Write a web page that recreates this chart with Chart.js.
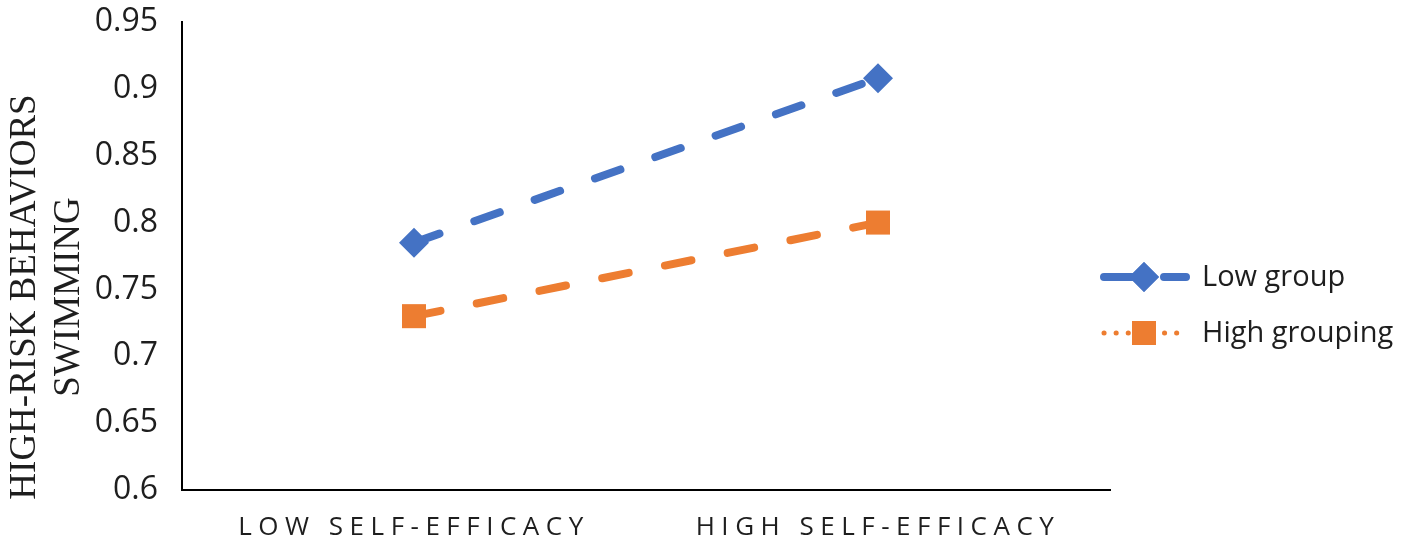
<!DOCTYPE html>
<html>
<head>
<meta charset="utf-8">
<script src="https://cdn.jsdelivr.net/npm/chart.js@4"></script>
<style>
    html, body {
        margin: 0;
        padding: 0;
        background: #ffffff;
    }

    #wrap {
        width: 1418px;
        height: 550px;
        position: relative;
    }
</style>
</head>
<body>
<div id="wrap"><canvas id="chart"></canvas></div>
<script>
// Chart data
var categories = ["LOW SELF-EFFICACY", "HIGH SELF-EFFICACY"];
var low_group = [0.785, 0.908];
var high_grouping = [0.73, 0.80];
var series_names = ["Low group", "High grouping"];
var y_title_lines = ["HIGH-RISK BEHAVIORS", "SWIMMING"];
var y_min = 0.6;
var y_max = 0.95;
var y_step = 0.05;

var blue = "#4472C4";
var orange = "#ED7D31";
var text_color = "#1e1e1e";

// Draws the rotated two-line serif title on the left
var y_title_plugin = {
    "id": "y_title",
    "afterDraw": function (chart) {
        var ctx = chart.ctx;

        ctx.save();
        ctx.translate(25, 297);
        ctx.rotate(-Math.PI / 2);
        ctx.font = "37px 'Liberation Serif', 'DejaVu Serif', serif";
        ctx.fillStyle = text_color;
        ctx.textAlign = "center";
        ctx.textBaseline = "middle";

        for (var i = 0; i < y_title_lines.length; i++) {
            ctx.fillText(y_title_lines[i], 0, i * 44);
        }

        ctx.restore();
    }
};

// Legend on the right with line sample + marker (Excel style)
var side_legend_plugin = {
    "id": "side_legend",
    "afterDraw": function (chart) {
        var ctx = chart.ctx;
        var rows = [277, 333];

        chart.data.datasets.forEach(function (ds, i) {
            var y = rows[i];

            ctx.save();
            ctx.strokeStyle = ds.borderColor;
            ctx.lineWidth = i === 0 ? 8 : 5;
            ctx.lineCap = "round";
            ctx.setLineDash(i === 0 ? [30, 30] : [0.1, 12]);
            ctx.beginPath();
            ctx.moveTo(1104, y);
            ctx.lineTo(1186, y);
            ctx.stroke();
            ctx.restore();

            ctx.save();
            ctx.fillStyle = ds.pointBackgroundColor;
            ctx.beginPath();
            Chart.helpers.drawPoint(ctx, {
                "pointStyle": ds.pointStyle,
                "radius": ds.pointRadius,
                "borderWidth": 0
            }, 1144, y);
            ctx.fill();
            ctx.restore();

            ctx.save();
            ctx.font = "29px 'Open Sans', sans-serif";
            ctx.fillStyle = text_color;
            ctx.textAlign = "left";
            ctx.textBaseline = "middle";
            ctx.fillText(ds.label, 1202, y + 1);
            ctx.restore();
        });
    }
};

// Category labels are spaced out in the reference
var x_spacing_plugin = {
    "id": "x_spacing",
    "beforeDraw": function (chart) {
        var scale = chart.scales.x;

        if (scale._spaced) {
            return;
        }

        var orig = scale.drawLabels;

        scale.drawLabels = function (area) {
            var ctx = this.ctx;

            ctx.save();
            ctx.letterSpacing = "6.5px";
            orig.call(this, area);
            ctx.restore();
        };

        scale._spaced = true;
    }
};

var config = {
    "type": "line",
    "data": {
        "labels": categories,
        "datasets": [
            {
                "label": series_names[0],
                "data": low_group,
                "borderColor": blue,
                "backgroundColor": blue,
                "pointBackgroundColor": blue,
                "pointBorderColor": blue,
                "borderWidth": 8,
                "borderDash": [27, 37],
                "borderCapStyle": "round",
                "pointStyle": "rectRot",
                "pointRadius": 15,
                "pointBorderWidth": 0,
                "tension": 0
            },
            {
                "label": series_names[1],
                "data": high_grouping,
                "borderColor": orange,
                "backgroundColor": orange,
                "pointBackgroundColor": orange,
                "pointBorderColor": orange,
                "borderWidth": 8,
                "borderDash": [27, 37],
                "borderCapStyle": "round",
                "pointStyle": "rect",
                "pointRadius": 17,
                "pointBorderWidth": 0,
                "tension": 0
            }
        ]
    },
    "options": {
        "responsive": true,
        "maintainAspectRatio": false,
        "animation": false,
        "layout": {
            "padding": {"top": 22, "right": 308, "bottom": 0, "left": 0}
        },
        "scales": {
            "x": {
                "offset": true,
                "afterFit": function (scale) {
                    scale.height = 60;
                },
                "grid": {
                    "display": false,
                    "drawTicks": false
                },
                "border": {
                    "display": true,
                    "color": "#000000",
                    "width": 2
                },
                "ticks": {
                    "color": text_color,
                    "padding": 22,
                    "maxRotation": 0,
                    "font": {
                        "family": "'Open Sans', sans-serif",
                        "size": 26
                    }
                }
            },
            "y": {
                "min": y_min,
                "max": y_max,
                "afterFit": function (scale) {
                    // pin the plot box to the reference: axis at x=182, top at y=22
                    scale.width = 182;
                    scale.paddingTop = 0;
                    scale.paddingBottom = 0;
                },
                "grid": {
                    "display": false,
                    "drawTicks": false
                },
                "border": {
                    "display": true,
                    "color": "#000000",
                    "width": 2
                },
                "ticks": {
                    "stepSize": y_step,
                    "color": text_color,
                    "padding": 24,
                    "font": {
                        "family": "'Open Sans', sans-serif",
                        "size": 32
                    },
                    "callback": function (value) {
                        return String(parseFloat(value.toFixed(2)));
                    }
                }
            }
        },
        "plugins": {
            "legend": {
                "display": false
            },
            "tooltip": {
                "enabled": false
            },
            "title": {
                "display": false
            }
        }
    },
    "plugins": [x_spacing_plugin, y_title_plugin, side_legend_plugin]
};

new Chart(document.getElementById("chart").getContext("2d"), config);
</script>
</body>
</html>
